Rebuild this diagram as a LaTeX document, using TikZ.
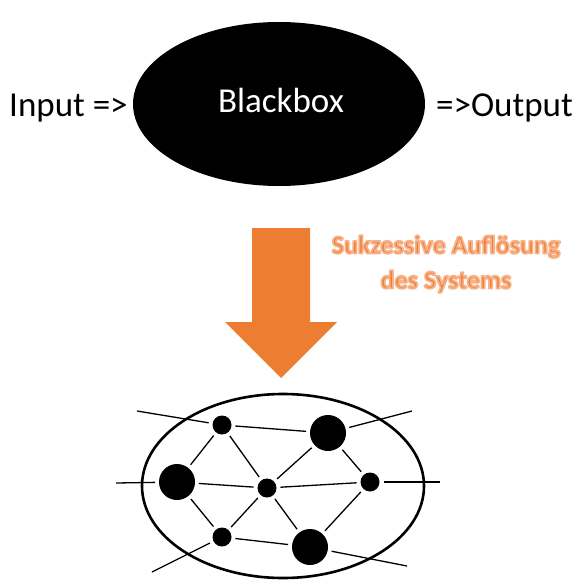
\documentclass[tikz,border=0pt]{standalone}
\usepackage{fontspec}
\setmainfont{Carlito}
\definecolor{arroworange}{RGB}{237,125,49}
% orange text with a pale orange outline (fill + stroke text rendering)
\newcommand{\glowline}[1]{\special{pdf:literal direct 2 Tr 1.8 w 1 j 0.97 0.70 0.54 RG}#1\special{pdf:literal direct 0 Tr}}
\begin{document}
\begin{tikzpicture}[x=1pt,y=-1pt,
  bigtext/.style={font=\fontsize{35}{40}\selectfont, inner sep=0pt},
  dot/.style={circle, fill=black, inner sep=0pt, outer sep=4pt},
  smalldot/.style={dot, minimum size=19pt},
  bigdot/.style={dot, minimum size=36pt},
  link/.style={line width=1.3pt},
  glowtext/.style={font=\fontsize{26}{35}\selectfont\bfseries, align=center, inner sep=0pt, text=arroworange}
]
\useasboundingbox (0,0) rectangle (577,580);

% black box with its inputs and outputs
\fill[black] (279,104) ellipse [x radius=146, y radius=82];
\node[bigtext, text=white] (bb) at (281,100) {Blackbox};
\node[bigtext, anchor=west] (in) at (9,108) {Input =>};
\node[bigtext, anchor=east] (out) at (573,108) {=>Output};

% downward arrow
\fill[arroworange] (252,228) -- (310,228) -- (310,322) -- (337,322)
  -- (281,378) -- (225,322) -- (252,322) -- cycle;

% caption
\node[glowtext] (cap) at (446,264) {\glowline{Sukzessive Auflösung}\\\glowline{des Systems}};

% network inside the resolved system
\draw[line width=2.6pt] (283,486) ellipse [x radius=141, y radius=92];
\node[smalldot] (n1) at (222,425) {};
\node[bigdot]   (n2) at (328,433) {};
\node[bigdot]   (n3) at (177,482) {};
\node[smalldot] (n4) at (267,488) {};
\node[smalldot] (n5) at (370,482) {};
\node[smalldot] (n6) at (222,537) {};
\node[bigdot]   (n7) at (310,547) {};

\coordinate (e1) at (137,411);
\coordinate (e2) at (412,411);
\coordinate (e3) at (116,483);
\coordinate (e5) at (440,482);
\coordinate (e6) at (152,572);
\coordinate (e7) at (407,566);

\draw[link] (n1) -- (n2);
\draw[link] (n1) -- (n3);
\draw[link] (n1) -- (n4);
\draw[link] (n2) -- (n4);
\draw[link] (n2) -- (n5);
\draw[link] (n3) -- (n4);
\draw[link] (n4) -- (n5);
\draw[link] (n3) -- (n6);
\draw[link] (n6) -- (n4);
\draw[link] (n4) -- (n7);
\draw[link] (n5) -- (n7);
\draw[link] (n6) -- (n7);

\draw[link] (n1) -- (e1);
\draw[link] (n2) -- (e2);
\draw[link] (n3) -- (e3);
\draw[link] (n5) -- (e5);
\draw[link] (n6) -- (e6);
\draw[link] (n7) -- (e7);
\end{tikzpicture}
\end{document}
